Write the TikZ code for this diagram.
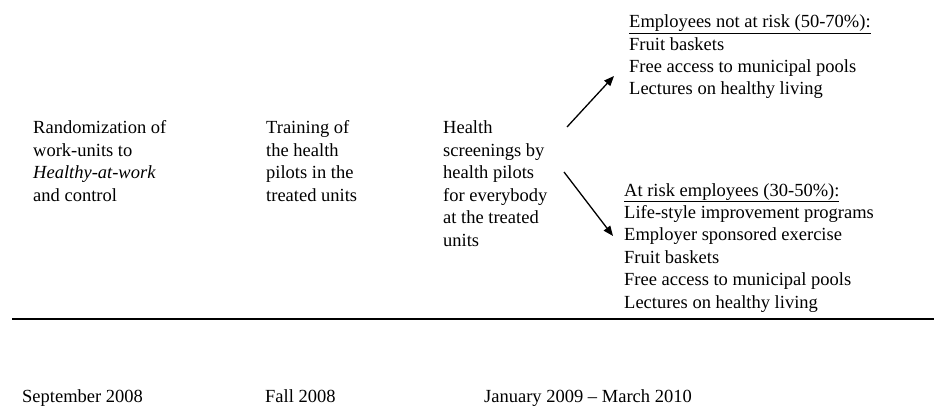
\documentclass[tikz,border=0pt]{standalone}
\usepackage{fontspec}
\setmainfont{Liberation Serif}
\usetikzlibrary{arrows.meta}
\begin{document}
\begin{tikzpicture}[x=1pt,y=-1pt,
  txt/.style={anchor=base west,inner sep=0pt,align=left,
    font=\fontsize{18.5}{22.4}\selectfont},
  arr/.style={-{Triangle[length=10pt,width=8pt]},line width=1.3pt}]
\useasboundingbox (0,0) rectangle (934,406);
% multi-line nodes: base anchor is the baseline of the last line
\node[txt] (rand) at (33,201) {Randomization of\\work-units to\\\textit{Healthy-at-work}\\and control};
\node[txt] (train) at (266,201) {Training of\\the health\\pilots in the\\treated units};
\node[txt] (screen) at (443,246) {Health\\screenings by\\health pilots\\for everybody\\at the treated\\units};
\node[txt] (notrisk) at (629,95) {\underline{Employees not at risk (50-70\%):}\\Fruit baskets\\Free access to municipal pools\\Lectures on healthy living};
\node[txt] (risk) at (624,308) {\underline{At risk employees (30-50\%):}\\Life-style improvement programs\\Employer sponsored exercise\\Fruit baskets\\Free access to municipal pools\\Lectures on healthy living};
\coordinate (a1s) at (567,127);
\coordinate (a1e) at (614,76);
\coordinate (a2s) at (564,172);
\coordinate (a2e) at (613,236);
\draw[arr] (a1s) -- (a1e);
\draw[arr] (a2s) -- (a2e);
\coordinate (ls) at (12,319);
\coordinate (le) at (934,319);
\draw[line width=2.6pt] (ls) -- (le);
\node[txt] (t1) at (22,402) {September 2008};
\node[txt] (t2) at (265,402) {Fall 2008};
\node[txt] (t3) at (484,402) {January 2009 -- March 2010};
\end{tikzpicture}
\end{document}
